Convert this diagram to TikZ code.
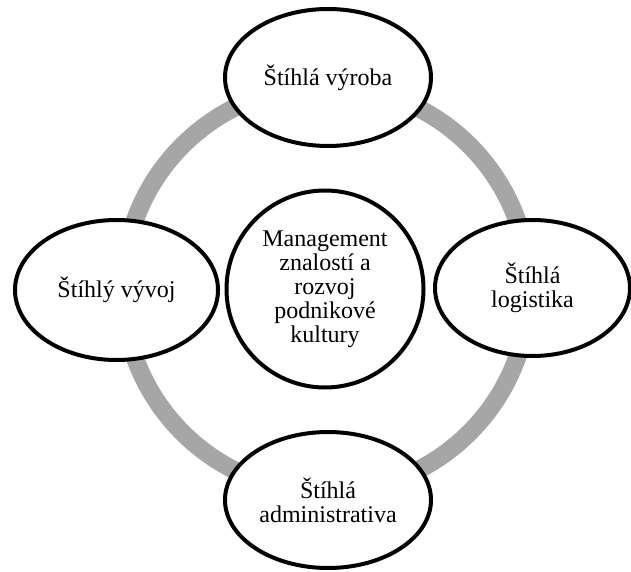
\documentclass[tikz,border=0pt]{standalone}
\usepackage{fontspec}
\setmainfont{Liberation Serif}
\usepackage{xcolor}
\usetikzlibrary{shapes}
\definecolor{ringgray}{HTML}{A6A6A6}

\begin{document}
\begin{tikzpicture}[
            x=0.5pt, y=-0.5pt,
            pillar/.style={draw, ellipse, fill=white, line width=2pt, inner sep=0pt, align=center, font=\fontsize{12}{12}\selectfont},
            ring/.style={draw=ringgray, line width=9pt}
        ]
            \useasboundingbox (0, 0) rectangle (631, 572);
            % ring
            \coordinate (ringc) at (326, 289);
            \draw[ring] (ringc) circle (101.5pt);
            % pillars
            \node[pillar, minimum width=103pt, minimum height=68.5pt] (vyroba) at (328, 77.5) {Štíhlá výroba};
            \node[pillar, minimum width=101.5pt, minimum height=70pt] (vyvoj) at (116.5, 290) {Štíhlý vývoj};
            \node[pillar, minimum width=97.5pt, minimum height=68pt] (logistika) at (532.5, 288) {Štíhlá\\logistika};
            \node[pillar, minimum width=103pt, minimum height=68pt] (admin) at (328, 500) {Štíhlá\\administrativa};
            % core
            \node[pillar, minimum width=98.5pt, minimum height=98.5pt] (core) at (325, 289) {Management\\znalostí a\\rozvoj\\podnikové\\kultury};
        \end{tikzpicture}
\end{document}
